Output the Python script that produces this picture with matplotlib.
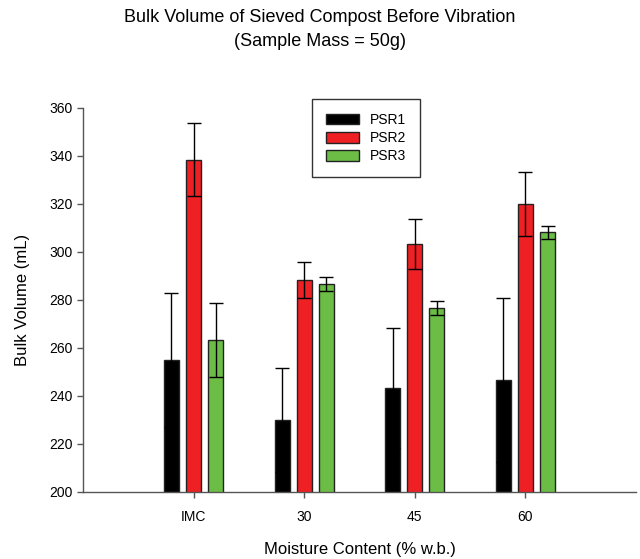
import matplotlib
matplotlib.use("Agg")
import matplotlib.pyplot as plt
import numpy as np

plt.rcParams['font.family'] = ['Liberation Sans', 'DejaVu Sans']

categories = ["IMC", "30", "45", "60"]
series = ["PSR1", "PSR2", "PSR3"]
psr1_mean = [255.0, 230.0, 243.3, 246.7]
psr1_sd = [28.0, 21.7, 25.0, 34.0]
psr2_mean = [338.5, 288.3, 303.5, 320.0]
psr2_sd = [15.2, 7.5, 10.4, 13.3]
psr3_mean = [263.3, 286.7, 276.7, 308.3]
psr3_sd = [15.3, 3.0, 2.8, 2.7]
colors = ["#000000", "#ee2024", "#6cbd45"]

means = [psr1_mean, psr2_mean, psr3_mean]
sds = [psr1_sd, psr2_sd, psr3_sd]

fig = plt.figure(figsize=(6.40, 5.59), dpi=100)
ax = fig.add_axes([83/640, 1 - 492/559, (636-83)/640, (492-108)/559])

x = np.arange(len(categories))
width = 0.135
offsets = [-0.2, 0.0, 0.2]
for m, s, c, name, off in zip(means, sds, colors, series, offsets):
    ax.bar(x + off, m, width, bottom=0, color=c, edgecolor="#222222",
           linewidth=1.0, label=name, zorder=2)
    ax.errorbar(x + off, m, yerr=s, fmt="none", ecolor="black",
                elinewidth=1.0, capsize=5, capthick=1.0, zorder=3)

ax.set_ylim(200, 360)
ax.set_xlim(-1, 4)
ax.set_yticks(np.arange(200, 361, 20))
ax.set_xticks(x)
ax.set_xticklabels(categories)
for sp in ["top", "right"]:
    ax.spines[sp].set_visible(False)
for sp in ["left", "bottom"]:
    ax.spines[sp].set_color("#555555")
    ax.spines[sp].set_linewidth(1.0)
ax.tick_params(axis="both", direction="out", labelsize=10, color="#555555",
               length=4, width=1.0)
ax.tick_params(axis="x", pad=9)

ax.set_ylabel("Bulk Volume (mL)", fontsize=12, labelpad=14)
ax.set_xlabel("Moisture Content (% w.b.)", fontsize=12, labelpad=13)

fig.text(0.5, 1 - 9/559, "Bulk Volume of Sieved Compost Before Vibration\n(Sample Mass = 50g)",
         ha="center", va="top", fontsize=13, linespacing=1.5)

leg = ax.legend(loc="upper left", bbox_to_anchor=((312-83)/553, 1 + 9/384),
                borderaxespad=0.0,
                frameon=True, fancybox=False, edgecolor="black", fontsize=10,
                handlelength=2.35, handleheight=0.8, borderpad=1.0, labelspacing=0.3,
                handletextpad=0.8)
leg.get_frame().set_linewidth(1.0)

fig.savefig("out.png", dpi=100)
